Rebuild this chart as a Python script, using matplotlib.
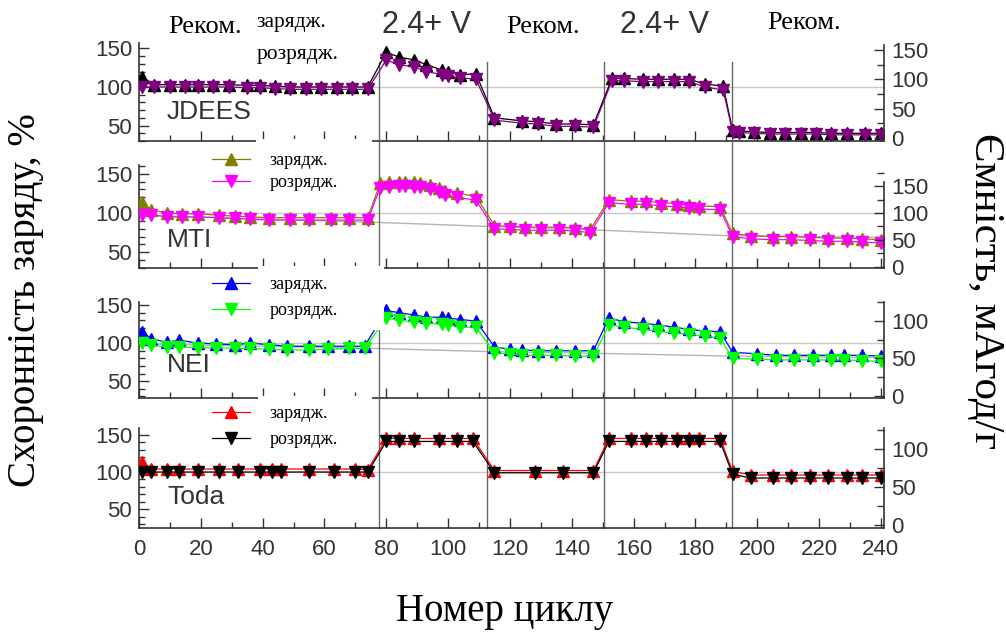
import matplotlib
matplotlib.use("Agg")
import matplotlib.pyplot as plt
from matplotlib.patches import Rectangle
from matplotlib.ticker import MultipleLocator

# ---- data (left axis units, %) ----
cyc_jdees = [1, 5, 10, 15, 19, 24, 29, 35, 39, 44, 49, 54, 59, 64, 69, 74,
             80, 84, 89, 93, 98, 100, 104, 109,
             115, 124, 129, 135, 141, 147,
             153, 157, 163, 168, 173, 178, 183, 189,
             192, 194, 199, 204, 209, 214, 219, 224, 229, 235, 240]
chg_jdees = [113, 103, 103, 103, 103, 103, 103, 102, 102, 101, 100, 100, 100, 100, 100, 100,
             145, 139, 135, 129, 122, 119, 116, 117,
             60, 56, 55, 52, 52, 51,
             111, 111, 110, 110, 110, 110, 104, 101,
             44, 43, 42, 41, 41, 41, 41, 40, 40, 40, 40]
dis_jdees = [100, 100, 100, 100, 100, 100, 100, 99, 99, 98, 97, 97, 97, 97, 97, 97,
             135, 129, 126, 120, 116, 114, 112, 110,
             57, 53, 52, 49, 49, 48,
             108, 108, 107, 107, 107, 107, 100, 96,
             42, 41, 40, 39, 39, 39, 39, 38, 38, 38, 38]

cyc_mti = [1, 4, 9, 14, 19, 26, 31, 36, 42, 49, 55, 62, 68, 74,
           78, 81, 84, 86, 89, 91, 94, 97, 99, 103, 109,
           115, 120, 125, 130, 136, 141, 146,
           152, 159, 164, 169, 174, 178, 181, 188,
           192, 198, 205, 211, 217, 223, 229, 234, 240]
chg_mti = [114, 104, 100, 99, 99, 97, 96, 95, 94, 94, 94, 94, 94, 94,
           138, 139, 140, 140, 139, 138, 135, 132, 128, 125, 121,
           84, 83, 82, 82, 82, 81, 79,
           117, 115, 115, 113, 112, 110, 109, 108,
           74, 71, 70, 70, 69, 68, 68, 67, 66]
dis_mti = [98, 98, 95, 95, 95, 94, 93, 92, 91, 91, 91, 91, 91, 91,
           132, 133, 134, 134, 133, 133, 130, 127, 123, 120, 116,
           80, 79, 78, 78, 78, 77, 75,
           113, 111, 111, 109, 108, 106, 105, 104,
           70, 67, 66, 66, 65, 64, 64, 63, 62]
gray_cyc_mti = [0, 77, 112, 150, 191, 240]
gray_mti = [97, 88, 83, 78, 71, 69]

cyc_nei = [1, 4, 9, 13, 19, 25, 31, 36, 42, 48, 55, 61, 68, 73,
           80, 84, 89, 93, 98, 100, 104, 109,
           115, 120, 124, 129, 135, 141, 147,
           152, 157, 163, 168, 173, 178, 183, 188,
           192, 200, 206, 212, 218, 224, 228, 234, 240]
chg_nei = [115, 106, 101, 104, 100, 99, 98, 100, 98, 96, 96, 96, 96, 96,
           143, 140, 137, 134, 134, 133, 131, 129,
           95, 92, 91, 90, 90, 90, 90,
           133, 128, 126, 124, 121, 118, 116, 115,
           88, 86, 84, 84, 84, 84, 84, 84, 83]
dis_nei = [100, 97, 95, 95, 94, 94, 93, 93, 92, 91, 91, 92, 93, 93,
           133, 130, 128, 126, 125, 124, 121, 121,
           87, 86, 84, 84, 84, 83, 83,
           124, 121, 118, 116, 113, 112, 109, 107,
           80, 79, 78, 78, 78, 78, 78, 77, 76]
gray_cyc_nei = [0, 77, 112, 150, 191, 240]
gray_nei = [99, 93, 89, 86.5, 83, 81]

cyc_toda = [1, 4, 9, 13, 19, 26, 32, 39, 43, 46, 55, 63, 70, 74,
            80, 84, 89, 97, 103, 108,
            115, 128, 137, 147,
            152, 159, 164, 169, 174, 178, 181, 188,
            192, 198, 205, 211, 217, 223, 229, 234, 240]
chg_toda = [113, 104, 104, 104, 104, 104, 104, 104, 104, 104, 104, 104, 104, 103,
            145, 145, 145, 145, 145, 145,
            102, 102, 102, 102,
            145, 145, 145, 145, 145, 145, 145, 145,
            101, 96, 96, 96, 96, 96, 96, 96, 96]
dis_toda = [100, 100, 100, 100, 100, 100, 100, 100, 100, 100, 100, 100, 100, 100,
            141, 141, 141, 141, 141, 141,
            99, 99, 99, 99,
            141, 141, 141, 141, 141, 141, 141, 141,
            97, 92, 92, 92, 92, 92, 92, 92, 92]

boundaries = [77.7, 112.7, 150.3, 191.7]
region_labels = ["Реком.", "2.4+ V", "Реком.", "2.4+ V", "Реком."]
legend_labels = ["зарядж.", "розрядж."]

# ---- layout (pixels of a 1006x634 canvas) ----
W, H = 1006, 634
X0, X1 = 139, 884
SERIF = "Liberation Serif"
SANS = "Liberation Sans"
INK = "#333333"


def fx(px):
    return px / W


def fy(py):
    return 1 - py / H


panels = [
    dict(name="JDEES", cyc=cyc_jdees, chg=chg_jdees, dis=dis_jdees, cc="black", cd="#800080",
         top=43, bot=141, ylim=(30, 157), rlim=(-5, 162), rtop=158, gray=None, name_y=112),
    dict(name="MTI", cyc=cyc_mti, chg=chg_mti, dis=dis_mti, cc="#808000", cd="#ff00ff",
         top=165, bot=268, ylim=(30, 161), rlim=(-2, 189), rtop=157,
         gray=(gray_cyc_mti, gray_mti), name_y=240,
         leg_y=163, lsp=0.3, box=(256, 372, 139, 205)),
    dict(name="NEI", cyc=cyc_nei, chg=chg_nei, dis=dis_nei, cc="#0000ff", cd="#00ff00",
         top=302, bot=398, ylim=(28, 154), rlim=(-2.5, 125), rtop=125,
         gray=(gray_cyc_nei, gray_nei), name_y=365,
         leg_y=287, lsp=0.5, box=(258, 384, 266, 330)),
    dict(name="Toda", cyc=cyc_toda, chg=chg_toda, dis=dis_toda, cc="#ff0000", cd="black",
         top=428, bot=528, ylim=(25, 159), rlim=(-4, 127.5), rtop=127.5, gray=None, name_y=497,
         leg_y=416, lsp=0.5, box=(258, 372, 396, 455)),
]

fig = plt.figure(figsize=(W / 100, H / 100), dpi=100)

prev_bot = None
for i, p in enumerate(panels):
    rect = [fx(X0), fy(p["bot"]), (X1 - X0) / W, (p["bot"] - p["top"]) / H]
    ax = fig.add_axes(rect)
    ax.set_facecolor("none")
    ax.set_xlim(0, 241)
    ax.set_ylim(*p["ylim"])
    hpx = p["bot"] - p["top"]

    ax.axhline(100, color="#c8c8c8", lw=1, zorder=1)
    if p["gray"] is not None:
        ax.plot(p["gray"][0], p["gray"][1], color="#b4b4b4", lw=1, zorder=1)

    # section boundaries run up through the gap above each panel
    if prev_bot is None:
        ymax = (p["bot"] - 62) / hpx
    else:
        ymax = (p["bot"] - prev_bot) / hpx
    for b in boundaries:
        ax.axvline(b, ymin=0, ymax=ymax, color="#666666", lw=1, clip_on=False, zorder=2)

    lc, = ax.plot(p["cyc"], p["chg"], color=p["cc"], lw=0.9, marker="^", ms=8,
                  mec=p["cc"], zorder=3)
    ld, = ax.plot(p["cyc"], p["dis"], color=p["cd"], lw=0.9, marker="v", ms=8,
                  mec=p["cd"], zorder=4)

    for s in ["left", "bottom"]:
        ax.spines[s].set_color(INK)
        ax.spines[s].set_linewidth(1.2)
    ax.spines["top"].set_visible(False)
    ax.spines["right"].set_visible(False)
    ax.xaxis.set_major_locator(MultipleLocator(20))
    ax.xaxis.set_minor_locator(MultipleLocator(10))
    ax.yaxis.set_major_locator(MultipleLocator(50))
    ax.yaxis.set_minor_locator(MultipleLocator(10))
    ax.tick_params(which="both", direction="in", color=INK, width=1, labelcolor=INK,
                   labelsize=16)
    ax.tick_params(which="major", length=7)
    ax.tick_params(which="minor", length=4)
    ax.tick_params(axis="y", pad=5)
    for lab in ax.get_xticklabels() + ax.get_yticklabels():
        lab.set_fontfamily(SANS)
    if i < len(panels) - 1:
        ax.tick_params(axis="x", labelbottom=False)
    else:
        ax.tick_params(axis="x", pad=8)

    tw = ax.twinx()
    tw.set_ylim(*p["rlim"])
    tw.yaxis.set_major_locator(MultipleLocator(50))
    tw.yaxis.set_minor_locator(MultipleLocator(25))
    tw.tick_params(which="both", direction="in", color=INK, width=1, labelcolor=INK,
                   labelsize=16, pad=5)
    tw.tick_params(which="major", length=7)
    tw.tick_params(which="minor", length=5)
    for lab in tw.get_yticklabels():
        lab.set_fontfamily(SANS)
    for s in ["top", "left", "bottom"]:
        tw.spines[s].set_visible(False)
    tw.spines["right"].set_color(INK)
    tw.spines["right"].set_linewidth(1.2)
    tw.spines["right"].set_bounds(p["rlim"][0], p["rtop"])

    fig.text(fx(167), fy(p["name_y"]), p["name"], fontsize=19, family=SANS,
             color=INK, va="center", ha="left")

    if "box" in p:
        x0, x1, y0, y1 = p["box"]
        fig.add_artist(Rectangle((fx(x0), fy(y1)), (x1 - x0) / W, (y1 - y0) / H,
                                 transform=fig.transFigure, facecolor="white",
                                 edgecolor="none", zorder=5))
        fs_px = 13 * 100 / 72
        leg = fig.legend([lc, ld], legend_labels, loc="upper left",
                         bbox_to_anchor=(fx(212), fy(p["leg_y"] - 11)),
                         frameon=False, borderpad=0, borderaxespad=0,
                         handlelength=38 / fs_px, handletextpad=20 / fs_px,
                         labelspacing=p["lsp"], numpoints=1,
                         prop={"family": SERIF, "size": 13})
        leg.set_zorder(10)
    prev_bot = p["bot"]

# section names along the top
region_x = [205, 426, 543, 665, 804]
region_y = [27, 25, 27, 25, 23]
for lab, x, y in zip(region_labels, region_x, region_y):
    if "V" in lab:
        fig.text(fx(x), fy(y), lab, fontsize=22, family=SANS, color=INK,
                 ha="center", va="center")
    else:
        fig.text(fx(x), fy(y), lab, fontsize=19, family=SERIF, color="black",
                 ha="center", va="center")
fig.text(fx(256), fy(23), legend_labels[0], fontsize=15.5, family=SERIF,
         ha="left", va="center")
fig.text(fx(257), fy(55), legend_labels[1], fontsize=15.5, family=SERIF,
         ha="left", va="center")

fig.text(fx(505), fy(612), "Номер циклу", fontsize=28, family=SERIF,
         ha="center", va="center")
fig.text(fx(26), fy(300), "Схоронність заряду, %", fontsize=28, family=SERIF,
         rotation=90, ha="center", va="center")
fig.text(fx(985), fy(291), "Ємність, мАгод/г", fontsize=31, family=SERIF,
         rotation=-90, ha="center", va="center")

fig.savefig("out.png", dpi=100)
